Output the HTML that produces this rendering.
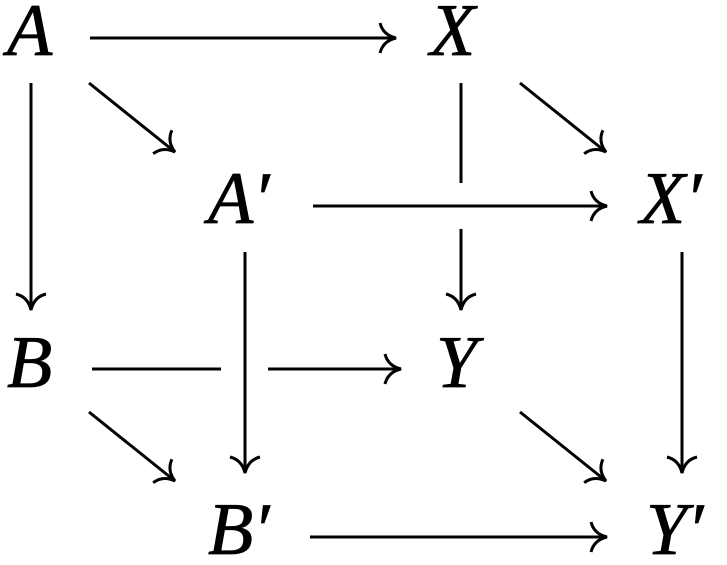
<!DOCTYPE html>
<html><head><style>html,body{margin:0;padding:0;background:#fff;}
.t{font-family:"Liberation Serif","DejaVu Serif",serif;font-style:italic;font-size:74px;fill:#000;stroke:#000;stroke-width:0.8px;}</style></head>
<body>
<svg width="727" height="560" viewBox="0 0 727 560" xmlns="http://www.w3.org/2000/svg">
<defs>
<marker id="h" viewBox="-20 -18 24 36" markerWidth="24" markerHeight="36" refX="0" refY="0" orient="auto" markerUnits="userSpaceOnUse">
<path d="M-16,-15 Q-13,-3 0,0 Q-13,3 -16,15" fill="none" stroke="#000" stroke-width="3"/>
</marker>
</defs>
<g stroke="#000" stroke-width="3" fill="none">
<line x1="90" y1="38" x2="396" y2="38" marker-end="url(#h)"/>
<line x1="31" y1="83" x2="31" y2="310" marker-end="url(#h)"/>
<line x1="89" y1="83" x2="175" y2="152" marker-end="url(#h)"/>
<line x1="520" y1="83" x2="606" y2="152" marker-end="url(#h)"/>
<line x1="461" y1="83" x2="461" y2="183"/>
<line x1="461" y1="229" x2="461" y2="310" marker-end="url(#h)"/>
<line x1="313" y1="206" x2="607" y2="206" marker-end="url(#h)"/>
<line x1="245" y1="252" x2="245" y2="473" marker-end="url(#h)"/>
<line x1="682" y1="252" x2="682" y2="473" marker-end="url(#h)"/>
<line x1="92" y1="369" x2="221" y2="369"/>
<line x1="268" y1="369" x2="401" y2="369" marker-end="url(#h)"/>
<line x1="89" y1="412" x2="175" y2="481" marker-end="url(#h)"/>
<line x1="520" y1="412" x2="606" y2="481" marker-end="url(#h)"/>
<line x1="310" y1="537" x2="607" y2="537" marker-end="url(#h)"/>
</g>
<g class="t">
<text x="7" y="55">A</text>
<text x="430" y="55">X</text>
<text x="208" y="223">A′</text>
<text x="640" y="223">X′</text>
<text x="7" y="387">B</text>
<text x="436" y="387">Y</text>
<text x="208" y="554">B′</text>
<text x="646" y="554">Y′</text>
</g>
</svg>
</body></html>
